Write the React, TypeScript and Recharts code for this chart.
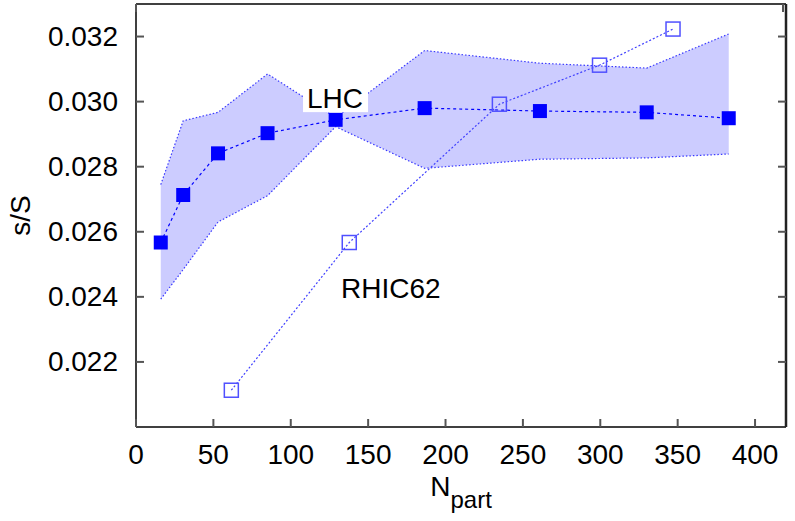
import { ComposedChart, Area, Line, Scatter, XAxis, YAxis, ReferenceDot } from "recharts";

const lhcNpart = [16, 30.5, 53, 85, 129, 186.5, 261, 330, 383];
const lhcRatio = [0.02567, 0.02713, 0.02841, 0.02903, 0.02944, 0.0298, 0.02971, 0.02967, 0.02949];
const lhcLow = [0.02393, 0.02484, 0.0263, 0.02711, 0.02923, 0.02795, 0.02823, 0.02827, 0.02839];
const lhcHigh = [0.02745, 0.02941, 0.02967, 0.03085, 0.02951, 0.03157, 0.03118, 0.03103, 0.03208];

const rhicNpart = [61.6, 137.8, 234.8, 299.5, 347];
const rhicRatio = [0.02113, 0.02567, 0.02992, 0.03112, 0.03223];

const xTicks = [0, 50, 100, 150, 200, 250, 300, 350, 400];
const yTicks = [0.022, 0.024, 0.026, 0.028, 0.03, 0.032];

const lhcData = lhcNpart.map((x, i) => ({ x, y: lhcRatio[i], lo: lhcLow[i], hi: lhcHigh[i] }));
const rhicData = rhicNpart.map((x, i) => ({ x, y: rhicRatio[i] }));

const FONT = '"Liberation Sans", Arial, Helvetica, sans-serif';
const TICK = "#555";

function XTick({ x, y, payload }: any) {
  return (
    <g>
      <line x1={x} x2={x} y1={y} y2={y - 8} stroke={TICK} strokeWidth={2} />
      <text x={x} y={y + 37} textAnchor="middle" fontSize={28} fill="#000" fontFamily={FONT}>
        {payload.value}
      </text>
    </g>
  );
}

function TopTick({ x, y }: any) {
  return <line x1={x} x2={x} y1={y} y2={y + 8} stroke={TICK} strokeWidth={2} />;
}

function YTick({ x, y, payload }: any) {
  return (
    <g>
      <line x1={x} x2={x + 8} y1={y} y2={y} stroke={TICK} strokeWidth={2} />
      <text x={x - 18} y={y + 9.5} textAnchor="end" fontSize={28} fill="#000" fontFamily={FONT}>
        {payload.value.toFixed(3)}
      </text>
    </g>
  );
}

function RightTick({ x, y }: any) {
  return <line x1={x} x2={x - 8} y1={y} y2={y} stroke={TICK} strokeWidth={2} />;
}

export default function App() {
  return (
    <div style={{ position: "absolute", left: 0, top: 0, width: 795, height: 521, background: "#fff" }}>
      <ComposedChart width={795} height={521} data={lhcData} margin={{ top: 0, right: 0, bottom: 0, left: 0 }}>
        <XAxis
          dataKey="x"
          type="number"
          domain={[0, 420]}
          ticks={xTicks}
          allowDataOverflow
          height={94}
          tickSize={0}
          tickMargin={0}
          tick={XTick}
          axisLine={{ stroke: "#000", strokeWidth: 1.5 }}
          label={({ viewBox }: any) => (
            <text
              x={viewBox.x + viewBox.width / 2}
              y={viewBox.y + 69}
              textAnchor="middle"
              fontSize={28}
              fontFamily={FONT}
              fill="#000"
            >
              N<tspan fontSize={24} dy={12}>part</tspan>
            </text>
          )}
        />
        <XAxis
          xAxisId="top"
          orientation="top"
          type="number"
          domain={[0, 420]}
          ticks={xTicks}
          allowDataOverflow
          height={4}
          tickSize={0}
          tickMargin={0}
          tick={TopTick}
          axisLine={{ stroke: "#000", strokeWidth: 1.5 }}
        />
        <YAxis
          type="number"
          domain={[0.02, 0.033]}
          ticks={yTicks}
          allowDataOverflow
          width={136}
          tickSize={0}
          tickMargin={0}
          tick={YTick}
          axisLine={{ stroke: "#000", strokeWidth: 1.5 }}
          label={({ viewBox }: any) => {
            const cy = viewBox.y + viewBox.height / 2;
            return (
              <text
                x={30}
                y={cy}
                transform={`rotate(-90, 30, ${cy})`}
                textAnchor="middle"
                fontSize={28}
                fontFamily={FONT}
                fill="#000"
              >
                s/S
              </text>
            );
          }}
        />
        <YAxis
          yAxisId="right"
          orientation="right"
          type="number"
          domain={[0.02, 0.033]}
          ticks={yTicks}
          allowDataOverflow
          width={9}
          tickSize={0}
          tickMargin={0}
          tick={RightTick}
          axisLine={{ stroke: "#222", strokeWidth: 2.5 }}
        />
        <Area
          type="linear"
          dataKey={(d: any) => [d.lo, d.hi]}
          fill="#ccccff"
          fillOpacity={1}
          stroke="#3a3aff"
          strokeWidth={1.2}
          strokeDasharray="1.5 2"
          dot={false}
          activeDot={false}
          isAnimationActive={false}
        />
        <ReferenceDot
          x={128.6}
          y={0.0298}
          r={0}
          shape={({ cx, cy }: any) => (
            <g>
              <rect x={cx - 32} y={cy - 23} width={65} height={27} fill="#fff" />
              <text x={cx} y={cy} textAnchor="middle" fontSize={28} fontFamily={FONT} fill="#000">
                LHC
              </text>
            </g>
          )}
        />
        <ReferenceDot
          x={132.5}
          y={0.02396}
          r={0}
          shape={({ cx, cy }: any) => (
            <text x={cx} y={cy} textAnchor="start" fontSize={28} fontFamily={FONT} fill="#000">
              RHIC62
            </text>
          )}
        />
        <Scatter
          data={rhicData}
          dataKey="y"
          line={{ stroke: "#4040ff", strokeWidth: 1.2, strokeDasharray: "2 2" }}
          lineType="joint"
          shape={({ cx, cy }: any) => (
            <rect x={cx - 7} y={cy - 7} width={14} height={14} fill="none" stroke="#5050ff" strokeWidth={1.5} />
          )}
          isAnimationActive={false}
        />
        <Line
          type="linear"
          dataKey="y"
          stroke="#0000ff"
          strokeWidth={1.2}
          strokeDasharray="3 3"
          dot={({ cx, cy, index }: any) => (
            <rect key={index} x={cx - 7} y={cy - 7} width={14} height={14} fill="#0000ff" />
          )}
          activeDot={false}
          isAnimationActive={false}
        />
      </ComposedChart>
    </div>
  );
}
